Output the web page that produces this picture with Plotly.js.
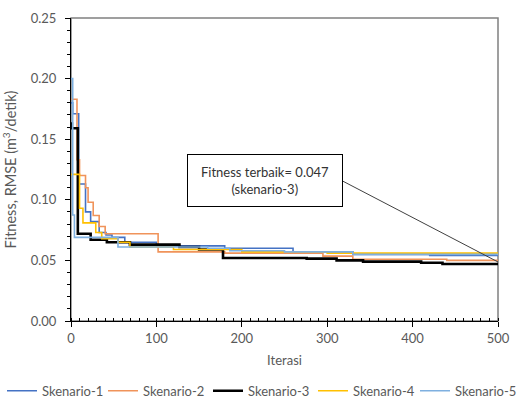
<!DOCTYPE html>
<html>
<head>
<meta charset="utf-8">
<script src="https://cdn.plot.ly/plotly-3.0.1.min.js"></script>
<style>html,body{margin:0;padding:0;background:#fff;}#chart{width:519px;height:402px;}</style>
</head>
<body>
<div id="chart"></div>
<script>
// Skenario-1 (blue)
const s1x = [0, 2, 9, 17, 23, 33, 41, 48, 63, 100, 180, 260, 330, 420, 500];
const s1y = [0.180, 0.171, 0.113, 0.090, 0.082, 0.073, 0.071, 0.069, 0.065, 0.062, 0.060, 0.057, 0.055, 0.054, 0.054];
// Skenario-2 (orange)
const s2x = [0, 7, 10, 17, 20, 26, 33, 40, 102, 180, 295, 330, 440, 500];
const s2y = [0.183, 0.133, 0.120, 0.110, 0.098, 0.087, 0.078, 0.072, 0.057, 0.056, 0.0535, 0.051, 0.050, 0.050];
// Skenario-3 (black)
const s3x = [0, 1, 8, 23, 42, 69, 127, 150, 178, 276, 311, 342, 410, 435, 500];
const s3y = [0.163, 0.159, 0.072, 0.067, 0.065, 0.063, 0.061, 0.059, 0.052, 0.0515, 0.050, 0.049, 0.048, 0.047, 0.047];
// Skenario-4 (yellow)
const s4x = [0, 10, 14, 29, 36, 55, 69, 120, 200, 300, 500];
const s4y = [0.121, 0.093, 0.081, 0.073, 0.068, 0.065, 0.061, 0.059, 0.057, 0.056, 0.056];
// Skenario-5 (light blue)
const s5x = [0, 2, 4, 55, 160, 186, 250, 330, 500];
const s5y = [0.200, 0.0875, 0.069, 0.061, 0.060, 0.058, 0.057, 0.055, 0.055];

const names = ['Skenario-1', 'Skenario-2', 'Skenario-3', 'Skenario-4', 'Skenario-5'];
const xs = [s1x, s2x, s3x, s4x, s5x];
const ys = [s1y, s2y, s3y, s4y, s5y];
const colors = ['#4472C4', '#F0935A', '#000000', '#FFC000', '#7FB0E0'];
const widths = [1.6, 1.6, 2.6, 1.6, 1.6];

const annText = 'Fitness terbaik= 0.047<br>(skenario-3)';
const bestX = 500, bestY = 0.0487;

const FONT = 'Lato, "Open Sans", sans-serif';
const GREY = '#595959';

const legendIds = ['legend', 'legend2', 'legend3', 'legend4', 'legend5'];
const legendLeft = [2, 103, 208, 313, 415];

const traces = names.map((n, i) => ({
  x: xs[i], y: ys[i], name: n, type: 'scatter', mode: 'lines', legend: legendIds[i],
  line: {color: colors[i], width: widths[i], shape: 'hv'}
}));

const layout = {
  width: 519, height: 402,
  margin: {l: 71, r: 21, t: 18, b: 81},
  paper_bgcolor: '#fff', plot_bgcolor: '#fff',
  font: {family: FONT, size: 13, color: GREY},
  showlegend: true,
  xaxis: {range: [0, 500], dtick: 100, tick0: 0, showgrid: false, zeroline: false,
          showline: true, linecolor: '#000', linewidth: 1,
          ticks: 'outside', ticklen: 5, tickcolor: '#000',
          minor: {dtick: 10, ticks: 'inside', ticklen: 3, tickcolor: '#000', showgrid: false},
          tickfont: {family: FONT, size: 13, color: GREY},
          title: {text: 'Iterasi', font: {family: FONT, size: 13, color: GREY}, standoff: 11}},
  yaxis: {range: [0, 0.25], dtick: 0.05, tick0: 0, tickformat: '.2f', showgrid: false, zeroline: false,
          showline: true, linecolor: '#000', linewidth: 1,
          ticks: 'outside', ticklen: 5, tickcolor: '#000', ticklabelstandoff: 6,
          minor: {dtick: 0.01, ticks: 'outside', ticklen: 3, tickcolor: '#000', showgrid: false},
          tickfont: {family: FONT, size: 13, color: GREY},
          title: {text: 'Fitness, RMSE (m<sup>3</sup>/detik)', font: {family: FONT, size: 14.5, color: GREY}, standoff: 10}},
  shapes: [
    {type: 'rect', xref: 'paper', yref: 'paper', x0: 0, x1: 1, y0: 0, y1: 1,
     line: {color: '#808080', width: 1.5}, layer: 'below'},
    {type: 'line', xref: 'x', yref: 'y', x0: 318, y0: 0.1155, x1: bestX, y1: bestY,
     line: {color: '#404040', width: 1}, layer: 'above'}
  ],
  annotations: [
    {xref: 'paper', yref: 'paper', x: 0.4543, y: 0.4637, xanchor: 'center', yanchor: 'middle',
     text: annText, showarrow: false, align: 'center',
     width: 154, height: 51, bgcolor: '#fff', bordercolor: '#000', borderwidth: 1, borderpad: 0,
     font: {family: FONT, size: 13, color: '#333'}}
  ]
};

legendIds.forEach((id, i) => {
  layout[id] = {orientation: 'h', xref: 'container', yref: 'container',
                x: legendLeft[i] / 519, xanchor: 'left', y: 0.028, yanchor: 'middle',
                font: {family: FONT, size: 13, color: GREY}, bgcolor: 'rgba(0,0,0,0)'};
});

Plotly.newPlot('chart', traces, layout, {displayModeBar: false, staticPlot: true});
</script>
</body>
</html>
